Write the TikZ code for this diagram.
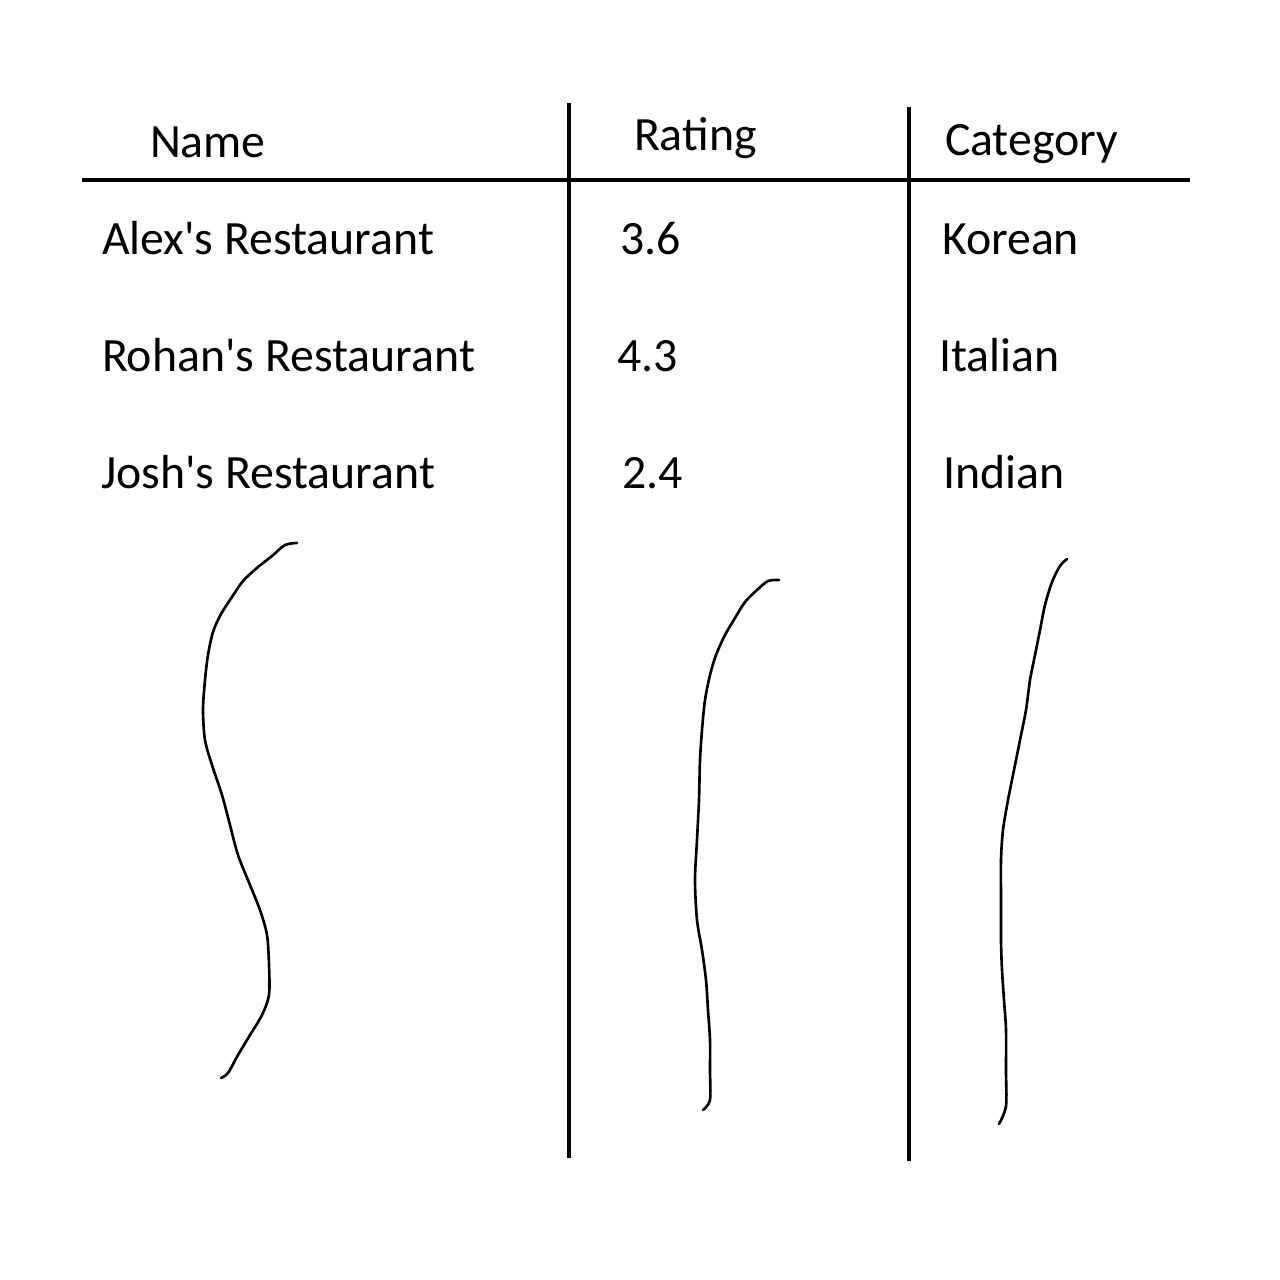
\documentclass[tikz,border=0pt]{standalone}
\usepackage{fontspec}
\setmainfont{Carlito}
\usepackage{tikz}
\usetikzlibrary{calc}
\newcommand{\apos}{\textquotesingle}

\begin{document}
\begin{tikzpicture}[x=0.1mm,y=-0.1mm]

\tikzstyle{cell} = [inner sep=0,outer sep=0,anchor=base west,
    font=\fontsize{13.6}{16}\selectfont, text=black]
\tikzstyle{rule} = [draw=black, line width=1.15pt]
\tikzstyle{squiggle} = [draw=black, line width=0.75pt, line cap=round, line join=round]

\useasboundingbox[fill=white] (0,0) rectangle (1280,1280);

% =========================
% header row
% =========================
\node[cell] (hdrname) at (150,157) {Name};
\node[cell] (hdrrating) at (634,150) {Rating};
\node[cell] (hdrcat) at (945,155) {Category};

% table rules
\draw[rule] (82,180) -- (1190,180);
\draw[rule] (569,103) -- (569,1158);
\draw[rule] (909,107) -- (909,1161);

% =========================
% rows
% =========================
\node[cell] (name1) at (102,254) {Alex\apos s Restaurant};
\node[cell] (rating1) at (620,254) {3.6};
\node[cell] (cat1) at (942,254) {Korean};

\node[cell] (name2) at (102,371) {Rohan\apos s Restaurant};
\node[cell] (rating2) at (617,371) {4.3};
\node[cell] (cat2) at (939,371) {Italian};

\node[cell] (name3) at (101,488) {Josh\apos s Restaurant};
\node[cell] (rating3) at (622,488) {2.4};
\node[cell] (cat3) at (943,488) {Indian};

% squiggles below each column
\draw[squiggle] plot[smooth] coordinates {(297,543) (285,545) (272,556) (258,567)
    (243,581) (232,597) (221,614) (213,632) (208,655) (205,680) (203,710)
    (205,740) (212,765) (222,795) (230,825) (238,855) (250,885) (260,910)
    (267,935) (269,965) (269,995) (262,1015) (250,1035) (238,1055) (228,1073) (221,1078)};

\draw[squiggle] plot[smooth] coordinates {(779,580) (768,581) (757,590) (745,602)
    (735,618) (725,635) (716,655) (710,675) (705,700) (702,730) (700,760)
    (699,800) (697,840) (695,880) (697,920) (702,950) (706,980) (708,1010)
    (710,1040) (710,1070) (710,1100) (703,1110)};

\draw[squiggle] plot[smooth] coordinates {(1067,559) (1060,566) (1052,582) (1045,605)
    (1040,630) (1035,655) (1030,680) (1026,710) (1020,740) (1014,770) (1008,800)
    (1003,830) (1001,860) (1001,900) (1001,940) (1002,970) (1004,1000) (1006,1030)
    (1006,1070) (1006,1106) (999,1124)};

\end{tikzpicture}
\end{document}
